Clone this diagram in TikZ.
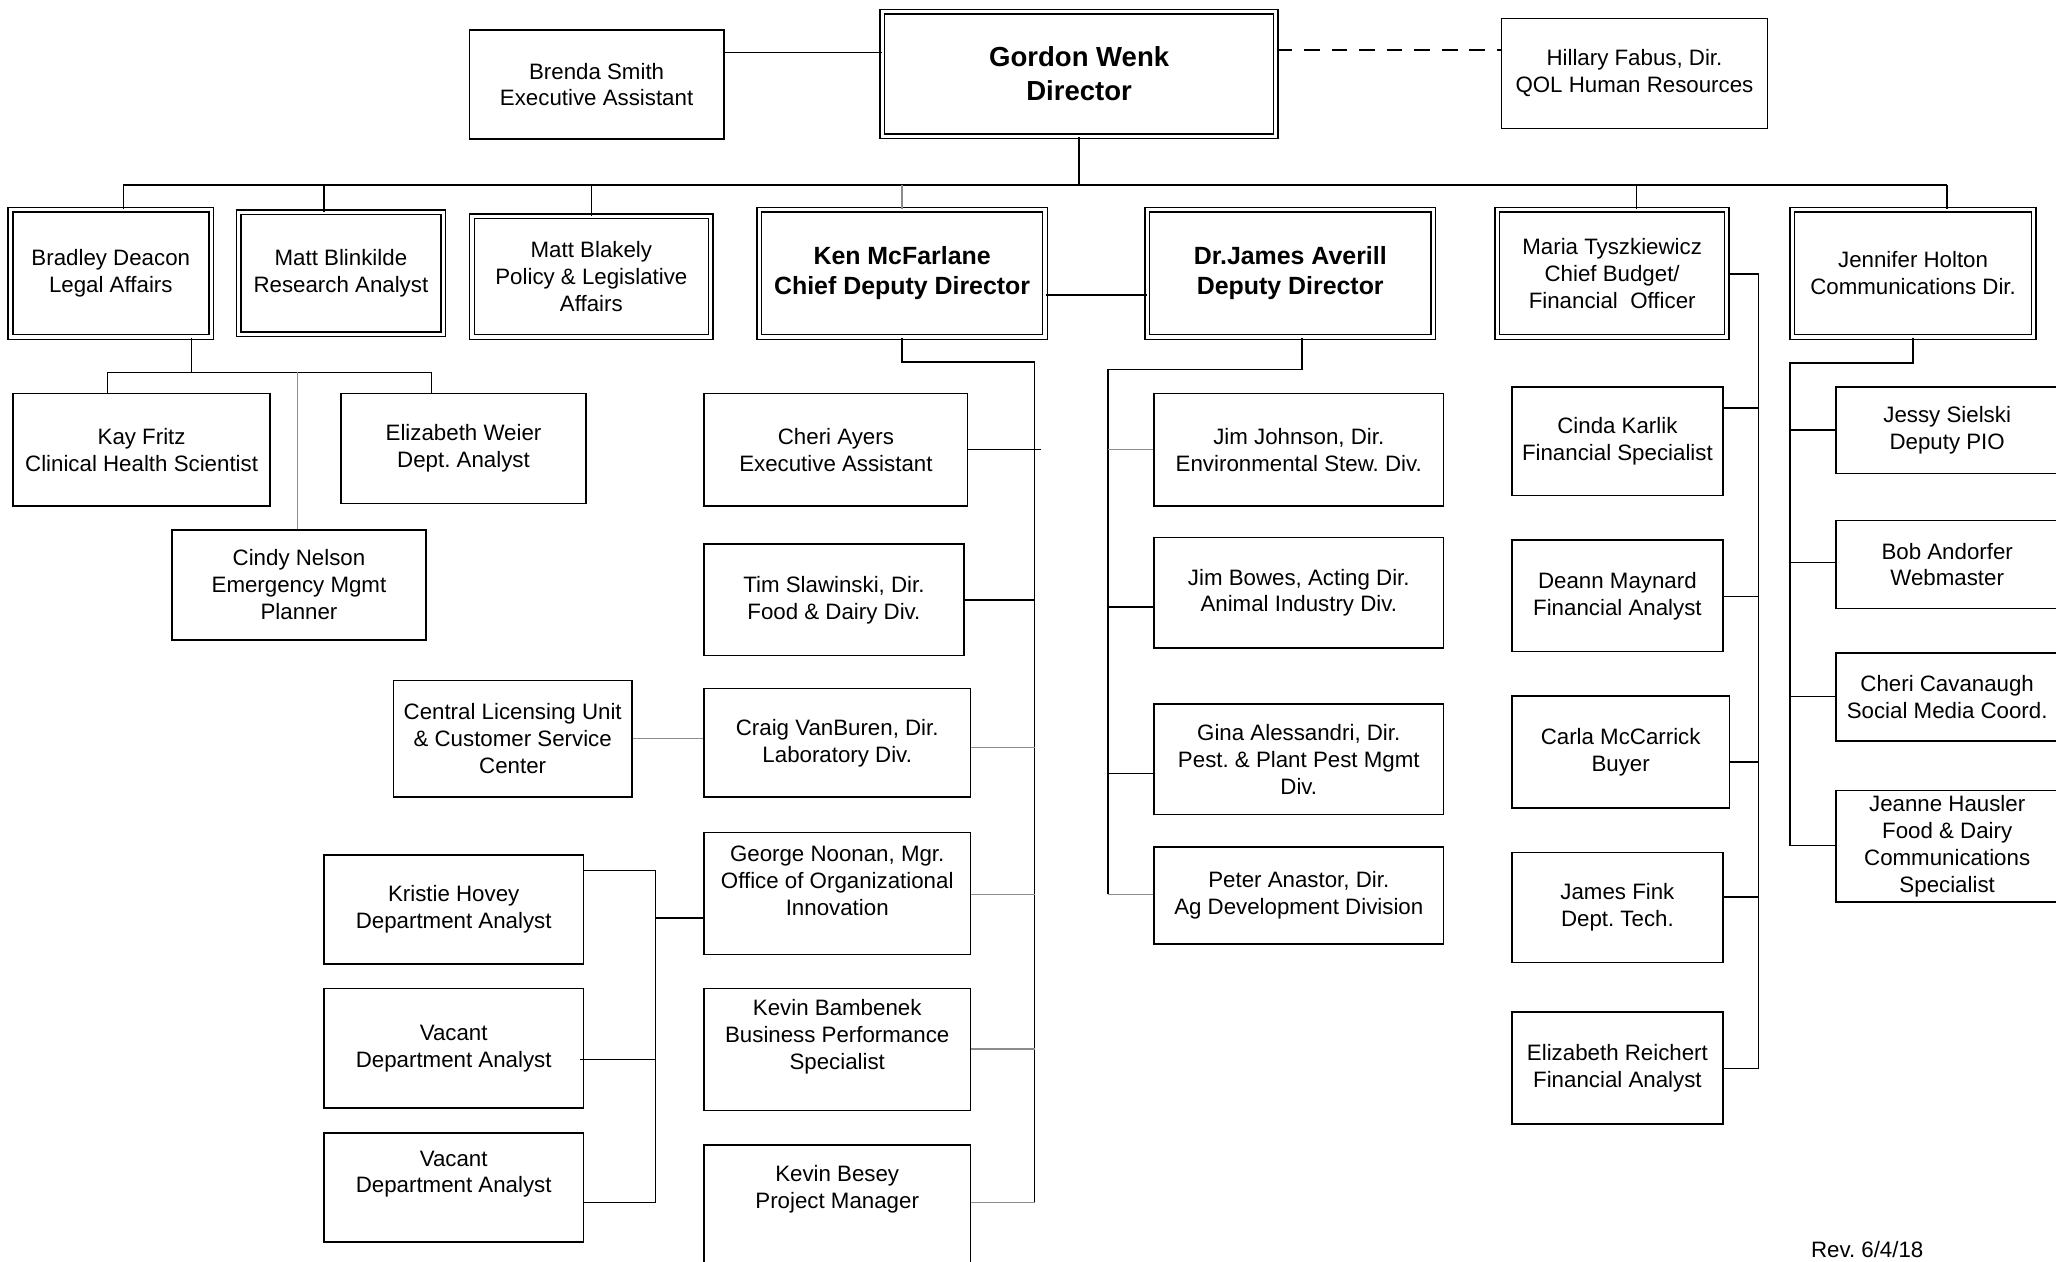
\documentclass[tikz,border=0pt]{standalone}
\usepackage{fontspec}
\setmainfont{Liberation Sans}
\usetikzlibrary{calc}
\frenchspacing
\newcommand{\obox}[7]{\node[#1, minimum width={(#5-#3)*1pt}, minimum height={(#6-#4)*1pt}] (#2) at ({(#3+#5)/2},{(#4+#6)/2}) {#7};}
\tikzset{
  sbox/.style={draw, line width=1.2pt, align=center, inner sep=0pt, font=\fontsize{17}{20.5}\selectfont},
  dbox/.style={sbox, double, double distance=2.4pt, line width=1.1pt},
  hbox/.style={dbox, font=\bfseries\fontsize{19}{23}\selectfont},
  gbox/.style={dbox, font=\bfseries\fontsize{21}{26}\selectfont},
  conn/.style={line width=1.1pt},
  gconn/.style={line width=1.1pt, black!45},
}
\begin{document}
\begin{tikzpicture}[x=1pt,y=-1pt]
\useasboundingbox (0,0) rectangle (1568,962);
% top row
\obox{sbox}{brenda}{358}{23}{552}{106}{Brenda Smith\\Executive Assistant}
\obox{gbox}{gordon}{673}{9}{973}{104}{Gordon Wenk\\Director}
\obox{sbox}{hillary}{1145}{14}{1348}{98}{Hillary Fabus, Dir.\\QOL Human Resources}
% second row
\obox{dbox}{bradley}{8}{160}{161}{257}{Bradley Deacon\\Legal Affairs}
\obox{dbox}{blink}{182}{162}{338}{255}{Matt Blinkilde\\Research Analyst}
\obox{dbox}{blakely}{360}{165}{542}{257}{Matt Blakely\\Policy \& Legislative\\Affairs}
\obox{hbox}{ken}{579}{160}{797}{257}{Ken McFarlane\\Chief Deputy Director}
\obox{hbox}{averill}{875}{160}{1093}{257}{Dr.James Averill\\Deputy Director}
\obox{dbox}{maria}{1142}{160}{1317}{257}{Maria Tyszkiewicz\\Chief Budget/\\Financial\ \ Officer}
\obox{dbox}{jen}{1367}{160}{1551}{257}{Jennifer Holton\\Communications Dir.}
% Bradley group
\obox{sbox}{kay}{10}{300}{206}{386}{Kay Fritz\\Clinical Health Scientist}
\obox{sbox}{eweier}{260}{300}{447}{384}{Elizabeth Weier\\Dept. Analyst}
\obox{sbox}{cindy}{131}{404}{325}{488}{Cindy Nelson\\Emergency Mgmt\\Planner}
% Ken column
\obox{sbox}{cheri}{537}{300}{738}{386}{Cheri Ayers\\Executive Assistant}
\obox{sbox}{tim}{537}{415}{735}{500}{Tim Slawinski, Dir.\\Food \& Dairy Div.}
\obox{sbox}{craig}{537}{525}{740}{608}{Craig VanBuren, Dir.\\Laboratory Div.}
\obox{sbox}{clu}{300}{519}{482}{608}{Central Licensing Unit\\\& Customer Service\\Center}
\obox{sbox,text depth=20pt}{george}{537}{635}{740}{728}{George Noonan, Mgr.\\Office of Organizational\\Innovation}
\obox{sbox,text depth=23.6pt}{bamb}{537}{754}{740}{847}{Kevin Bambenek\\Business Performance\\Specialist}
\obox{sbox,text depth=57pt}{besey}{537}{873}{740}{995}{Kevin Besey\\Project Manager}
\obox{sbox}{kristie}{247}{652}{445}{735}{Kristie Hovey\\Department Analyst}
\obox{sbox}{vaca}{247}{754}{445}{845}{Vacant\\Department Analyst}
\obox{sbox,text depth=23.6pt}{vacb}{247}{864}{445}{947}{Vacant\\Department Analyst}
% Averill column
\obox{sbox}{jj}{880}{300}{1101}{386}{Jim Johnson, Dir.\\Environmental Stew. Div.}
\obox{sbox}{jb}{880}{410}{1101}{494}{Jim Bowes, Acting Dir.\\Animal Industry Div.}
\obox{sbox}{gina}{880}{537}{1101}{621}{Gina Alessandri, Dir.\\Pest. \& Plant Pest Mgmt\\Div.}
\obox{sbox}{peter}{880}{646}{1101}{720}{Peter Anastor, Dir.\\Ag Development Division}
% Maria column
\obox{sbox}{cinda}{1153}{295}{1314}{378}{Cinda Karlik\\Financial Specialist}
\obox{sbox}{deann}{1153}{412}{1314}{497}{Deann Maynard\\Financial Analyst}
\obox{sbox}{carla}{1153}{531}{1319}{616}{Carla McCarrick\\Buyer}
\obox{sbox}{fink}{1153}{650}{1314}{734}{James Fink\\Dept. Tech.}
\obox{sbox}{reichert}{1153}{772}{1314}{857}{Elizabeth Reichert\\Financial Analyst}
% Jennifer column
\obox{sbox}{jessy}{1400}{295}{1570}{361}{Jessy Sielski\\Deputy PIO}
\obox{sbox}{bob}{1400}{397}{1570}{464}{Bob Andorfer\\Webmaster}
\obox{sbox}{cav}{1400}{498}{1570}{565}{Cheri Cavanaugh\\Social Media Coord.}
\obox{sbox}{jeanne}{1400}{603}{1570}{688}{Jeanne Hausler\\Food \& Dairy\\Communications\\Specialist}
% revision note
\node[font=\fontsize{17}{20.5}\selectfont] (rev) at (1424,953) {Rev. 6/4/18};

% connectors: top
\coordinate (busL) at (94,141);
\coordinate (busR) at (1485,141);
\draw[conn] (brenda.east |- 0,40) -- (gordon.west |- 0,40);
\draw[conn, dash pattern=on 12pt off 9pt] (gordon.east |- 0,38) -- (hillary.west |- 0,38);
\draw[conn] (gordon.south) -- (gordon.south |- busL);
\draw[conn] (busL) -- (busR);
\draw[conn] (busL) -- (busL |- bradley.north);
\draw[conn] (247,141) -- (247,141 |- blink.north);
\draw[conn] (blakely.north |- busL) -- (blakely.north);
\draw[gconn] (ken.north |- busL) -- (ken.north);
\draw[conn] (1248,141) -- (1248,141 |- maria.north);
\draw[conn] (busR) -- (busR |- jen.north);
\draw[conn] (ken.east |- 0,225) -- (averill.west |- 0,225);
% Bradley group
\draw[conn] (146,0 |- bradley.south) -- (146,284);
\draw[conn] (82,284) -- (329,284);
\draw[conn] (82,284) -- (82,0 |- kay.north);
\draw[conn] (329,284) -- (329,0 |- eweier.north);
\draw[gconn] (227,284) -- (227,0 |- cindy.north);
% Ken column
\draw[conn] (ken.south) |- (789,276) -- (789,917);
\draw[conn] (cheri.east) -- (794,343);
\draw[conn] (tim.east) -- (tim.east -| 789,0);
\draw[gconn] (craig.east |- 0,570) -- (789,570);
\draw[gconn] (george.east |- 0,682) -- (789,682);
\draw[gconn] (bamb.east |- 0,800) -- (789,800);
\draw[gconn] (besey.east |- 0,917) -- (789,917);
\draw[gconn] (clu.east |- 0,563) -- (craig.west |- 0,563);
\draw[conn] (kristie.east |- 0,664) -- (500,664) -- (500,917) -- (vacb.east |- 0,917);
\draw[conn] ([xshift=-3pt]vaca.east |- 0,808) -- (500,808);
\draw[conn] (500,700) -- (george.west |- 0,700);
% Averill column
\draw[conn] (993,0 |- averill.south) |- (845,282) -- (845,682);
\draw[gconn] (845,343) -- (jj.west |- 0,343);
\draw[conn] (845,463) -- (jb.west |- 0,463);
\draw[conn] (845,590) -- (gina.west |- 0,590);
\draw[gconn] (845,682) -- (peter.west |- 0,682);
% Maria column
\draw[conn] (maria.east |- 0,209) -- (1341,209) -- (1341,815) -- (reichert.east |- 0,815);
\draw[conn] (cinda.east |- 0,311) -- (1341,311);
\draw[conn] (deann.east |- 0,455) -- (1341,455);
\draw[conn] (carla.east |- 0,581) -- (1341,581);
\draw[conn] (fink.east |- 0,684) -- (1341,684);
% Jennifer column
\draw[conn] (jen.south) |- (1365,277) -- (1365,645) -- (jeanne.west |- 0,645);
\draw[conn] (1365,328) -- (jessy.west |- 0,328);
\draw[conn] (1365,429) -- (bob.west |- 0,429);
\draw[conn] (1365,531) -- (cav.west |- 0,531);
\end{tikzpicture}
\end{document}
